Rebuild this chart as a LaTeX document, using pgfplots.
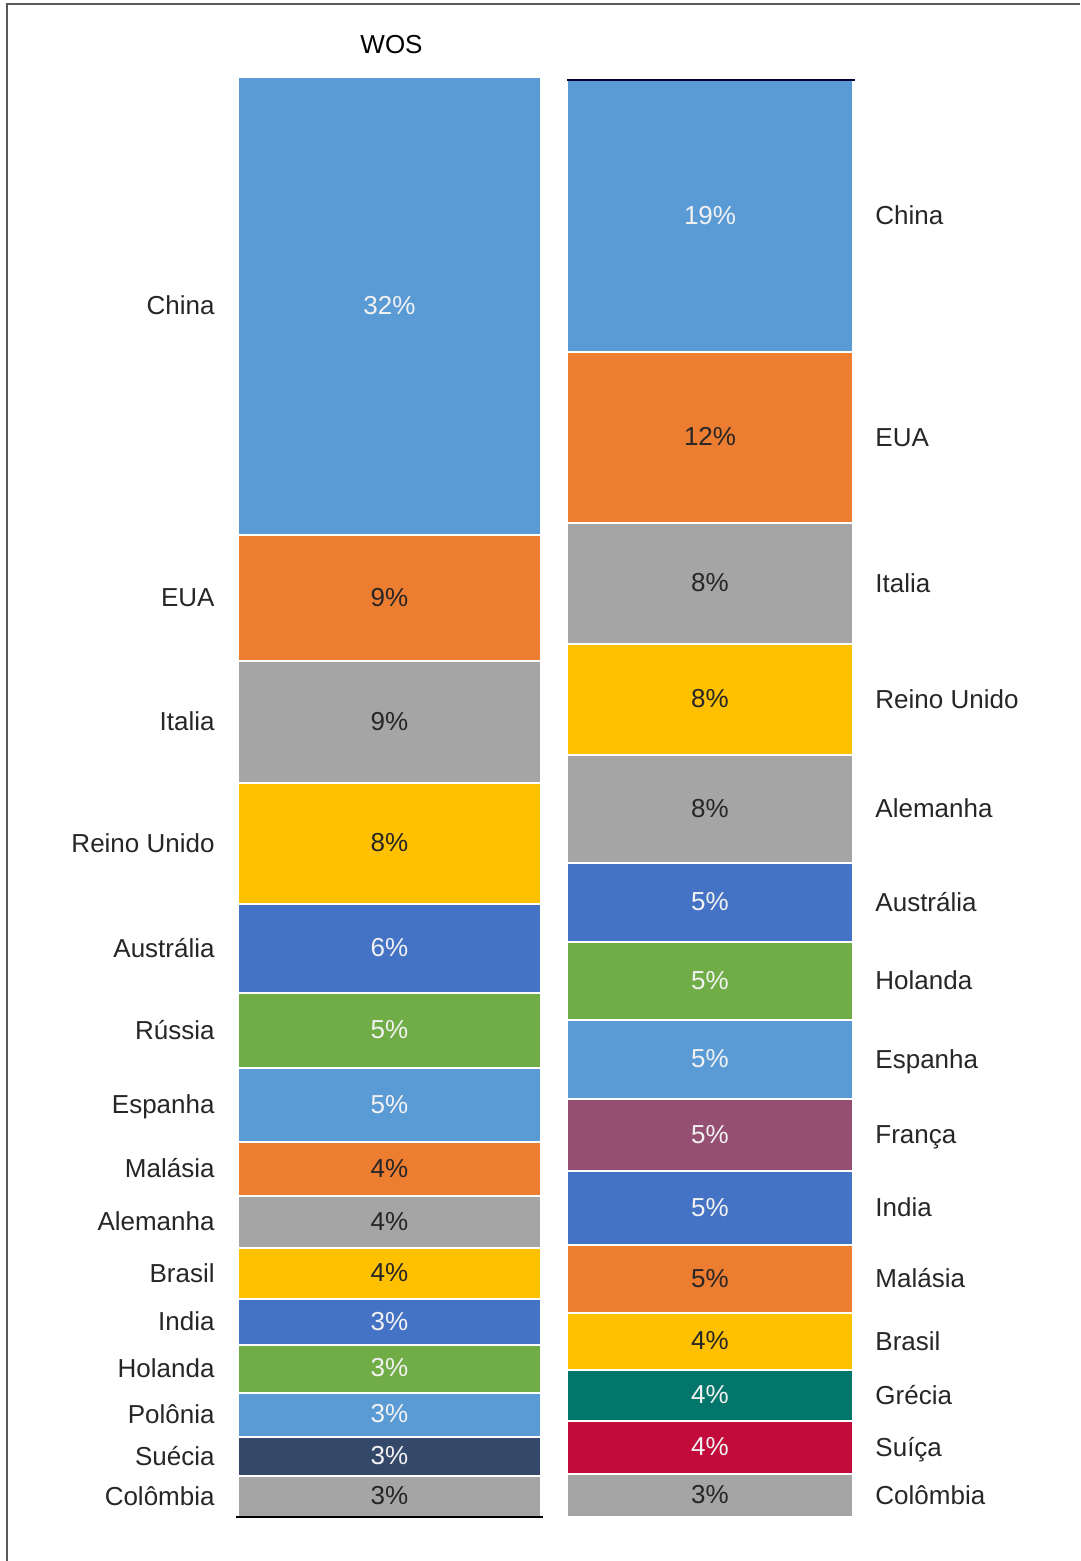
\documentclass[border=0pt]{standalone}
\usepackage{pgfplots}
\pgfplotsset{compat=1.18}
\usepackage{pgfplotstable}
\usepackage{fontspec}
\setmainfont{Liberation Sans}

\definecolor{cBlue}{HTML}{5B9BD5}
\definecolor{cOrange}{HTML}{ED7D31}
\definecolor{cGray}{HTML}{A5A5A5}
\definecolor{cGold}{HTML}{FFC000}
\definecolor{cBlueB}{HTML}{4472C4}
\definecolor{cGreen}{HTML}{70AD47}
\definecolor{cNavy}{HTML}{34496A}
\definecolor{cTeal}{HTML}{02766A}
\definecolor{cCrimson}{HTML}{C20B3A}
\definecolor{cPurple}{HTML}{954F72}
\definecolor{labW}{HTML}{F2F2F2}
\definecolor{labD}{HTML}{262626}
\newcommand{\W}[1]{\textcolor{labW}{#1}}
\newcommand{\D}[1]{\textcolor{labD}{#1}}

% left bar (WOS): label position (segment mid, % of stack), label text, country
\pgfplotstableread{
mid pct name
84.095 {\W{32\%}} China
63.815 {\D{9\%}} EUA
55.205 {\D{9\%}} Italia
46.77 {\D{8\%}} {Reino Unido}
39.48 {\W{6\%}} Austrália
33.785 {\W{5\%}} Rússia
28.61 {\W{5\%}} Espanha
24.165 {\D{4\%}} Malásia
20.485 {\D{4\%}} Alemanha
16.91 {\D{4\%}} Brasil
13.545 {\W{3\%}} India
10.285 {\W{3\%}} Holanda
7.09 {\W{3\%}} Polônia
4.205 {\W{3\%}} Suécia
1.425 {\D{3\%}} Colômbia
}\leftlabels

\pgfplotstableread{
mid pct name
90.535 {\W{19\%}} China
75.12 {\D{12\%}} EUA
64.96 {\D{8\%}} Italia
56.89 {\D{8\%}} {Reino Unido}
49.27 {\D{8\%}} Alemanha
42.76 {\W{5\%}} Austrália
37.295 {\W{5\%}} Holanda
31.83 {\W{5\%}} Espanha
26.575 {\W{5\%}} França
21.495 {\W{5\%}} India
16.555 {\D{5\%}} Malásia
12.205 {\D{4\%}} Brasil
8.445 {\W{4\%}} Grécia
4.825 {\W{4\%}} Suíça
1.49 {\D{3\%}} Colômbia
}\rightlabels

\pgfplotsset{
  barax/.style={scale only axis, hide axis, clip=false,
    xmin=0, xmax=1, ymin=0, ymax=100, anchor=south west},
  seg/.style={fill=#1, draw=white, line width=1bp},
  pctlab/.style={draw=none, mark=none, nodes near coords, point meta=explicit symbolic,
    every node near coord/.append style={anchor=base, yshift=-4bp, inner sep=0pt}},
  namelab/.style={draw=none, mark=none, nodes near coords, point meta=explicit symbolic,
    every node near coord/.append style={anchor=base #1, yshift=-4.3bp, inner sep=0pt, text=labD}},
}

\begin{document}
\begin{tikzpicture}[font=\fontsize{13bp}{15.6bp}\selectfont]
% pixel grid of the reference: 1 px = 0.5 bp, origin top-left, y downwards
\begin{scope}[x=0.5bp, y=-0.5bp]
\useasboundingbox (0,0) rectangle (1080,1561);
\draw[black!65, line width=1bp] (7,1561) -- (7,4) -- (1080,4);
\end{scope}

% ---- left bar (WOS)
\begin{axis}[barax, at={(119bp,-758.5bp)}, width=151.5bp, height=720bp,
  ybar stacked, bar width=151.5bp,
  title={WOS}, title style={at={(0.5,1)}, anchor=base, yshift=6bp, xshift=1bp, inner sep=0pt}]
\addplot[seg=cGray]    coordinates {(0.5,2.85)};  % Colômbia
\addplot[seg=cNavy]    coordinates {(0.5,2.71)};  % Suécia
\addplot[seg=cBlue]    coordinates {(0.5,3.06)};  % Polônia
\addplot[seg=cGreen]   coordinates {(0.5,3.33)};  % Holanda
\addplot[seg=cBlueB]   coordinates {(0.5,3.19)};  % India
\addplot[seg=cGold]    coordinates {(0.5,3.54)};  % Brasil
\addplot[seg=cGray]    coordinates {(0.5,3.61)};  % Alemanha
\addplot[seg=cOrange]  coordinates {(0.5,3.75)};  % Malásia
\addplot[seg=cBlue]    coordinates {(0.5,5.14)};  % Espanha
\addplot[seg=cGreen]   coordinates {(0.5,5.21)};  % Rússia
\addplot[seg=cBlueB]   coordinates {(0.5,6.18)};  % Austrália
\addplot[seg=cGold]    coordinates {(0.5,8.40)};  % Reino Unido
\addplot[seg=cGray]    coordinates {(0.5,8.47)};  % Italia
\addplot[seg=cOrange]  coordinates {(0.5,8.75)};  % EUA
\addplot[seg=cBlue]    coordinates {(0.5,31.81)}; % China
\end{axis}
\begin{axis}[barax, at={(119bp,-758.5bp)}, width=151.5bp, height=720bp]
\addplot[pctlab] table[x expr=0.5, y=mid, meta=pct] {\leftlabels};
\addplot[namelab=east] table[x expr=-0.076, y=mid, meta=name] {\leftlabels};
\draw[black, line width=1.2bp] ([xshift=-1bp]rel axis cs:0,0) -- ([xshift=1bp]rel axis cs:1,0);
\end{axis}

% ---- right bar
\begin{axis}[barax, at={(283.5bp,-758.5bp)}, width=143bp, height=718.5bp,
  ybar stacked, bar width=143bp]
\addplot[seg=cGray]    coordinates {(0.5,2.98)};  % Colômbia
\addplot[seg=cCrimson] coordinates {(0.5,3.69)};  % Suíça
\addplot[seg=cTeal]    coordinates {(0.5,3.55)};  % Grécia
\addplot[seg=cGold]    coordinates {(0.5,3.97)};  % Brasil
\addplot[seg=cOrange]  coordinates {(0.5,4.73)};  % Malásia
\addplot[seg=cBlueB]   coordinates {(0.5,5.15)};  % India
\addplot[seg=cPurple]  coordinates {(0.5,5.01)};  % França
\addplot[seg=cBlue]    coordinates {(0.5,5.50)};  % Espanha
\addplot[seg=cGreen]   coordinates {(0.5,5.43)};  % Holanda
\addplot[seg=cBlueB]   coordinates {(0.5,5.50)};  % Austrália
\addplot[seg=cGray]    coordinates {(0.5,7.52)};  % Alemanha
\addplot[seg=cGold]    coordinates {(0.5,7.72)};  % Reino Unido
\addplot[seg=cGray]    coordinates {(0.5,8.42)};  % Italia
\addplot[seg=cOrange]  coordinates {(0.5,11.90)}; % EUA
\addplot[seg=cBlue]    coordinates {(0.5,18.93)}; % China
\end{axis}
\begin{axis}[barax, at={(283.5bp,-758.5bp)}, width=143bp, height=718.5bp]
\addplot[pctlab] table[x expr=0.5, y=mid, meta=pct] {\rightlabels};
\addplot[namelab=west] table[x expr=1.077, y=mid, meta=name] {\rightlabels};
\draw[black!80!blue, line width=1.2bp] (rel axis cs:0,1) -- ([xshift=1bp]rel axis cs:1,1);
\end{axis}
\end{tikzpicture}
\end{document}
